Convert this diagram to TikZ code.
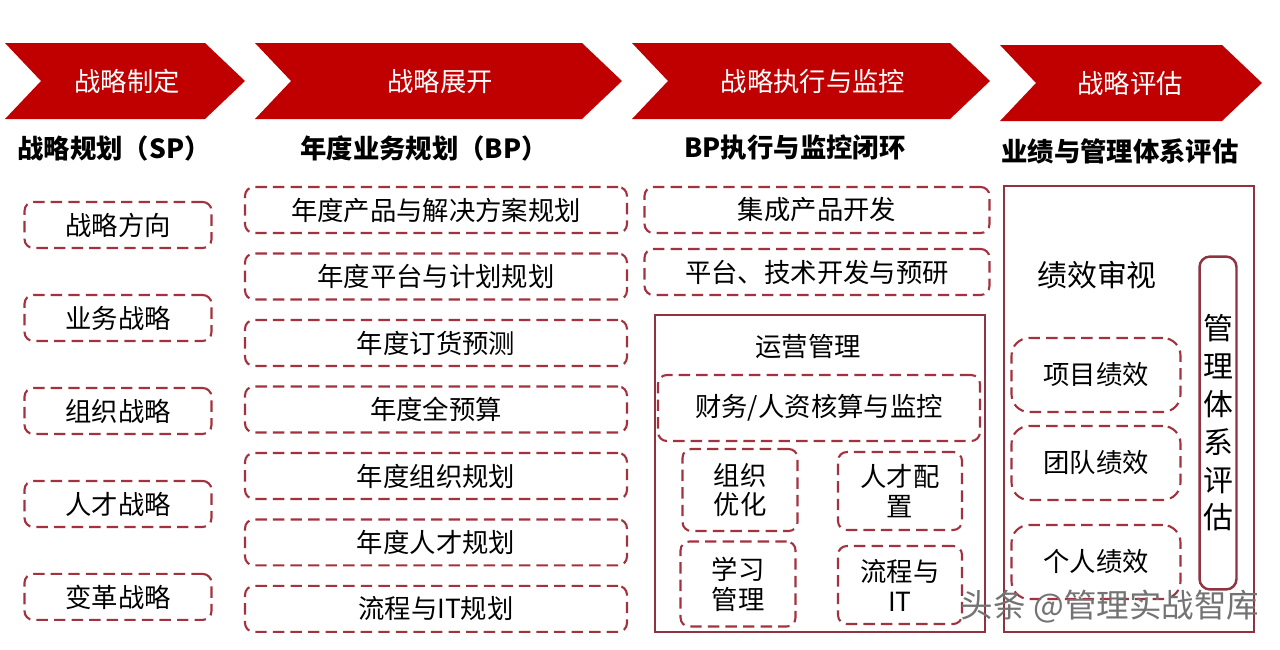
\documentclass[tikz,border=0pt]{standalone}
\usepackage{fontspec}
\setmainfont{Noto Sans CJK SC}
\usetikzlibrary{positioning}
\definecolor{chevred}{HTML}{C00000}
\definecolor{dashred}{HTML}{A3323F}
\definecolor{framered}{HTML}{8F3341}

\begin{document}
\begin{tikzpicture}[x=0.02cm,y=-0.02cm,
  chevron/.style={fill=chevred},
  chevtext/.style={text=white,font=\fontsize{15}{18}\selectfont},
  heading/.style={font=\fontsize{15}{18}\selectfont\bfseries},
  dbox/.style={draw=dashred,line width=1.2pt,dash pattern=on 6.5pt off 3.5pt,rounded corners=5pt,
    font=\fontsize{15}{17}\selectfont,align=center,inner sep=0pt},
  frame/.style={draw=framered,line width=1.4pt,inner sep=0pt}]
\useasboundingbox (0,0) rectangle (1280,649);

% chevrons
\fill[chevron] (5,43) -- (205,43) -- (245,81) -- (205,119) -- (5,119) -- (41,81) -- cycle;
\fill[chevron] (255,43) -- (582,43) -- (622,81) -- (582,119) -- (255,119) -- (291,81) -- cycle;
\fill[chevron] (632,43) -- (950,43) -- (990,81) -- (950,119) -- (632,119) -- (668,81) -- cycle;
\fill[chevron] (1000,45) -- (1222,45) -- (1262,83) -- (1222,121) -- (1000,121) -- (1036,83) -- cycle;
\node[chevtext] (c1) at (127,81) {战略制定};
\node[chevtext] (c2) at (440,81) {战略展开};
\node[chevtext] (c3) at (813,81) {战略执行与监控};
\node[chevtext] (c4) at (1130,83) {战略评估};

% headings
\node[heading] (h1) at (114,148) {战略规划（SP）};
\node[heading] (h2) at (424,148) {年度业务规划（BP）};
\node[heading] (h3) at (795,148) {BP执行与监控闭环};
\node[heading] (h4) at (1120,151) {业绩与管理体系评估};

% column 1
\begin{scope}[node distance=1.86cm]
\node[dbox,minimum width=3.74cm,minimum height=0.92cm] (sp1) at (118,225) {战略方向};
\node[dbox,minimum width=3.74cm,minimum height=0.92cm,below of=sp1] (sp2) {业务战略};
\node[dbox,minimum width=3.74cm,minimum height=0.92cm,below of=sp2] (sp3) {组织战略};
\node[dbox,minimum width=3.74cm,minimum height=0.92cm,below of=sp3] (sp4) {人才战略};
\node[dbox,minimum width=3.74cm,minimum height=0.92cm,below of=sp4] (sp5) {变革战略};
\end{scope}

% column 2
\begin{scope}[node distance=1.33cm]
\node[dbox,minimum width=7.64cm,minimum height=0.92cm] (bp1) at (436,210) {年度产品与解决方案规划};
\node[dbox,minimum width=7.64cm,minimum height=0.92cm,below of=bp1] (bp2) {年度平台与计划规划};
\node[dbox,minimum width=7.64cm,minimum height=0.92cm,below of=bp2] (bp3) {年度订货预测};
\node[dbox,minimum width=7.64cm,minimum height=0.92cm,below of=bp3] (bp4) {年度全预算};
\node[dbox,minimum width=7.64cm,minimum height=0.92cm,below of=bp4] (bp5) {年度组织规划};
\node[dbox,minimum width=7.64cm,minimum height=0.92cm,below of=bp5] (bp6) {年度人才规划};
\node[dbox,minimum width=7.64cm,minimum height=0.92cm,below of=bp6] (bp7) {流程与IT规划};
\end{scope}

% column 3
\node[dbox,minimum width=6.9cm,minimum height=0.92cm] (ex1) at (817,210) {集成产品开发};
\node[dbox,minimum width=6.9cm,minimum height=0.92cm,below of=ex1,node distance=1.24cm] (ex2) {平台、技术开发与预研};
\node[frame,minimum width=6.6cm,minimum height=6.34cm] (ops) at (820,473.5) {};
\node[font=\fontsize{15}{18}\selectfont] (opst) at (808,346) {运营管理};
\node[dbox,minimum width=6.44cm,minimum height=1.32cm] (fin) at (819,408) {财务/人资核算与监控};
\node[dbox,minimum width=2.3cm,minimum height=1.64cm] (org) at (740,490) {组织\\优化};
\node[dbox,minimum width=2.48cm,minimum height=1.56cm] (tal) at (900,491) {人才配\\置};
\node[dbox,minimum width=2.3cm,minimum height=1.7cm] (lrn) at (738,584) {学习\\管理};
\node[dbox,minimum width=2.48cm,minimum height=1.56cm] (pit) at (900,585) {流程与\\IT};

% column 4
\node[frame,minimum width=5cm,minimum height=8.92cm] (eval) at (1129,409) {};
\node[font=\fontsize{17}{20}\selectfont] (perf) at (1097,275) {绩效审视};
\node[dbox,rounded corners=10pt,minimum width=3.38cm,minimum height=1.48cm] (pf1) at (1096,375) {项目绩效};
\node[dbox,rounded corners=10pt,minimum width=3.38cm,minimum height=1.48cm] (pf2) at (1096,463) {团队绩效};
\node[dbox,rounded corners=10pt,minimum width=3.38cm,minimum height=1.48cm] (pf3) at (1096,562) {个人绩效};
\node[frame,rounded corners=6pt,minimum width=0.74cm,minimum height=6.66cm,align=center,
  font=\fontsize{17}{21.5}\selectfont] (mgmt) at (1218,423) {管\\理\\体\\系\\评\\估};

% watermark
\node[text=black!55,font=\fontsize{18.5}{20}\selectfont] (mark) at (1110,607) {头条 @管理实战智库};
\end{tikzpicture}
\end{document}
